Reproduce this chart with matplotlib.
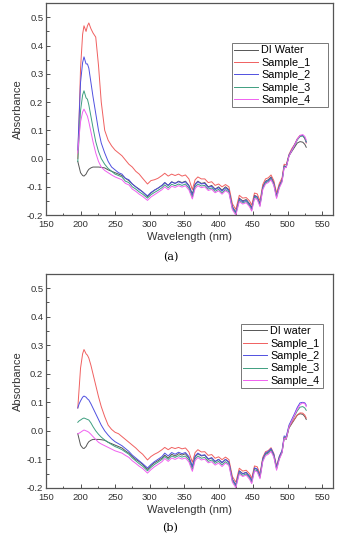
import numpy as np
import matplotlib
matplotlib.use('Agg')
import matplotlib.pyplot as plt
from matplotlib.ticker import MultipleLocator, FormatStrFormatter

plt.rcParams['font.family'] = ['Liberation Sans', 'DejaVu Sans']

# wavelength grid (nm)
wl = [196, 198, 200, 203, 205, 208, 210, 212, 215, 218, 222, 226, 230, 235, 240,
      245, 250, 255, 260, 265, 270, 275, 280, 285, 290, 297, 302, 307, 312, 318,
      322, 327, 332, 337, 342, 347, 352, 357, 362, 366, 370, 375, 380, 385, 390,
      395, 400, 405, 410, 415, 420, 425, 430, 435, 440, 445, 448, 452, 456, 460,
      464, 468, 472, 476, 480, 484, 488, 492, 495, 498, 502, 506, 510, 514, 518,
      522, 525, 527]

di_water = [-0.010, -0.030, -0.050, -0.060, -0.062, -0.055, -0.045, -0.038, -0.033, -0.030,
            -0.030, -0.030, -0.031, -0.033, -0.040, -0.045, -0.050, -0.055, -0.060, -0.070,
            -0.078, -0.090, -0.100, -0.108, -0.118, -0.135, -0.122, -0.112, -0.105, -0.095,
            -0.085, -0.095, -0.082, -0.088, -0.080, -0.085, -0.080, -0.095, -0.125, -0.090,
            -0.080, -0.088, -0.085, -0.100, -0.095, -0.108, -0.100, -0.112, -0.100, -0.110,
            -0.170, -0.190, -0.140, -0.150, -0.145, -0.160, -0.175, -0.130, -0.135, -0.160,
            -0.100, -0.080, -0.075, -0.065, -0.085, -0.130, -0.095, -0.075, -0.025, -0.030,
            0.010, 0.025, 0.040, 0.055, 0.060, 0.058, 0.050, 0.040]

# panel (a)
a_sample1 = [0.000, 0.150, 0.320, 0.440, 0.470, 0.450, 0.470, 0.480, 0.460, 0.445,
             0.430, 0.330, 0.200, 0.100, 0.065, 0.045, 0.030, 0.020, 0.010, -0.005,
             -0.020, -0.030, -0.045, -0.055, -0.070, -0.090, -0.078, -0.075, -0.070, -0.060,
             -0.052, -0.062, -0.055, -0.060, -0.055, -0.062, -0.058, -0.072, -0.110, -0.075,
             -0.065, -0.072, -0.072, -0.085, -0.082, -0.095, -0.090, -0.100, -0.092, -0.100,
             -0.160, -0.180, -0.130, -0.140, -0.138, -0.150, -0.165, -0.122, -0.125, -0.150,
             -0.092, -0.072, -0.068, -0.058, -0.078, -0.122, -0.088, -0.068, -0.020, -0.022,
             0.015, 0.035, 0.050, 0.070, 0.082, 0.082, 0.070, 0.055]
a_sample2 = [0.030, 0.150, 0.270, 0.340, 0.360, 0.335, 0.335, 0.320, 0.270, 0.220,
             0.160, 0.100, 0.055, 0.020, -0.010, -0.030, -0.040, -0.050, -0.055, -0.070,
             -0.075, -0.090, -0.100, -0.110, -0.118, -0.132, -0.120, -0.112, -0.105, -0.095,
             -0.085, -0.095, -0.083, -0.088, -0.082, -0.087, -0.082, -0.097, -0.130, -0.092,
             -0.082, -0.090, -0.088, -0.102, -0.098, -0.110, -0.103, -0.115, -0.104, -0.113,
             -0.172, -0.192, -0.143, -0.153, -0.148, -0.163, -0.178, -0.133, -0.137, -0.162,
             -0.102, -0.082, -0.078, -0.068, -0.088, -0.133, -0.097, -0.077, -0.027, -0.028,
             0.012, 0.030, 0.048, 0.068, 0.080, 0.082, 0.072, 0.058]
a_sample3 = [-0.010, 0.080, 0.170, 0.225, 0.240, 0.215, 0.210, 0.190, 0.150, 0.110,
             0.060, 0.025, 0.000, -0.020, -0.035, -0.045, -0.055, -0.060, -0.065, -0.080,
             -0.085, -0.100, -0.108, -0.118, -0.126, -0.140, -0.128, -0.120, -0.113, -0.103,
             -0.093, -0.103, -0.091, -0.096, -0.090, -0.095, -0.090, -0.105, -0.137, -0.100,
             -0.090, -0.097, -0.095, -0.108, -0.104, -0.116, -0.109, -0.121, -0.110, -0.118,
             -0.177, -0.196, -0.148, -0.157, -0.152, -0.167, -0.182, -0.137, -0.141, -0.166,
             -0.106, -0.086, -0.081, -0.071, -0.091, -0.137, -0.100, -0.080, -0.029, -0.030,
             0.010, 0.028, 0.046, 0.066, 0.078, 0.080, 0.072, 0.060]
a_sample4 = [0.020, 0.080, 0.130, 0.165, 0.175, 0.160, 0.150, 0.130, 0.095, 0.060,
             0.020, -0.010, -0.030, -0.042, -0.050, -0.058, -0.065, -0.070, -0.075, -0.088,
             -0.093, -0.108, -0.116, -0.126, -0.134, -0.148, -0.136, -0.128, -0.120, -0.110,
             -0.100, -0.110, -0.098, -0.102, -0.096, -0.101, -0.096, -0.111, -0.143, -0.106,
             -0.096, -0.103, -0.100, -0.113, -0.109, -0.121, -0.114, -0.126, -0.114, -0.122,
             -0.181, -0.200, -0.152, -0.161, -0.156, -0.171, -0.186, -0.141, -0.145, -0.170,
             -0.110, -0.090, -0.085, -0.075, -0.095, -0.141, -0.104, -0.083, -0.032, -0.032,
             0.008, 0.028, 0.047, 0.068, 0.082, 0.085, 0.078, 0.066]

# panel (b)
b_sample1 = [0.080, 0.150, 0.220, 0.270, 0.285, 0.270, 0.265, 0.255, 0.230, 0.200,
             0.160, 0.120, 0.085, 0.050, 0.020, 0.005, -0.005, -0.010, -0.020, -0.030,
             -0.040, -0.050, -0.060, -0.072, -0.082, -0.102, -0.090, -0.082, -0.076, -0.066,
             -0.058, -0.066, -0.058, -0.062, -0.058, -0.063, -0.060, -0.074, -0.110, -0.076,
             -0.066, -0.074, -0.073, -0.086, -0.083, -0.096, -0.091, -0.101, -0.092, -0.101,
             -0.160, -0.180, -0.131, -0.141, -0.138, -0.151, -0.166, -0.123, -0.126, -0.151,
             -0.093, -0.073, -0.069, -0.059, -0.079, -0.123, -0.089, -0.070, -0.022, -0.025,
             0.012, 0.028, 0.042, 0.056, 0.063, 0.062, 0.055, 0.045]
b_sample2 = [0.080, 0.095, 0.105, 0.118, 0.122, 0.118, 0.112, 0.108, 0.095, 0.080,
             0.060, 0.040, 0.020, 0.000, -0.015, -0.028, -0.038, -0.045, -0.052, -0.062,
             -0.072, -0.085, -0.095, -0.105, -0.115, -0.130, -0.118, -0.108, -0.100, -0.090,
             -0.078, -0.088, -0.076, -0.082, -0.075, -0.080, -0.076, -0.090, -0.125, -0.088,
             -0.078, -0.086, -0.084, -0.098, -0.094, -0.107, -0.100, -0.111, -0.100, -0.110,
             -0.170, -0.190, -0.141, -0.151, -0.146, -0.160, -0.175, -0.130, -0.134, -0.158,
             -0.098, -0.077, -0.072, -0.062, -0.082, -0.128, -0.090, -0.068, -0.018, -0.020,
             0.020, 0.040, 0.060, 0.082, 0.098, 0.100, 0.098, 0.090]
b_sample3 = [0.030, 0.035, 0.038, 0.043, 0.045, 0.042, 0.040, 0.038, 0.028, 0.015,
             0.000, -0.012, -0.022, -0.032, -0.040, -0.048, -0.055, -0.060, -0.066, -0.074,
             -0.082, -0.095, -0.105, -0.115, -0.124, -0.140, -0.128, -0.118, -0.110, -0.100,
             -0.090, -0.100, -0.088, -0.093, -0.087, -0.092, -0.088, -0.102, -0.135, -0.098,
             -0.088, -0.096, -0.093, -0.107, -0.102, -0.114, -0.107, -0.119, -0.108, -0.117,
             -0.176, -0.195, -0.147, -0.156, -0.151, -0.166, -0.181, -0.136, -0.140, -0.164,
             -0.104, -0.083, -0.078, -0.068, -0.088, -0.134, -0.096, -0.074, -0.024, -0.026,
             0.014, 0.033, 0.052, 0.070, 0.083, 0.085, 0.080, 0.072]
b_sample4 = [-0.010, -0.008, -0.005, 0.000, 0.003, 0.000, -0.002, -0.005, -0.012, -0.020,
             -0.030, -0.040, -0.046, -0.052, -0.058, -0.064, -0.070, -0.074, -0.078, -0.086,
             -0.093, -0.105, -0.114, -0.124, -0.132, -0.148, -0.136, -0.126, -0.118, -0.108,
             -0.097, -0.107, -0.095, -0.100, -0.094, -0.099, -0.095, -0.109, -0.142, -0.104,
             -0.094, -0.102, -0.099, -0.112, -0.108, -0.120, -0.113, -0.125, -0.113, -0.121,
             -0.180, -0.199, -0.151, -0.160, -0.155, -0.170, -0.185, -0.140, -0.144, -0.168,
             -0.108, -0.087, -0.082, -0.072, -0.092, -0.138, -0.100, -0.077, -0.026, -0.028,
             0.014, 0.034, 0.055, 0.076, 0.092, 0.098, 0.095, 0.085]

colors = ['#555555', '#f06060', '#5050e0', '#3f9f80', '#f060f0']

fig = plt.figure(figsize=(3.41, 5.35), dpi=100)
ax_a = fig.add_axes([0.135, 0.598, 0.842, 0.396])
ax_b = fig.add_axes([0.135, 0.088, 0.842, 0.400])

# legend box in axes fraction: (left, bottom, width, height)
panels = [
    (ax_a, [di_water, a_sample1, a_sample2, a_sample3, a_sample4],
     ['DI Water', 'Sample_1', 'Sample_2', 'Sample_3', 'Sample_4'], (0.648, 0.505, 0.335, 0.306)),
    (ax_b, [di_water, b_sample1, b_sample2, b_sample3, b_sample4],
     ['DI water', 'Sample_1', 'Sample_2', 'Sample_3', 'Sample_4'], (0.679, 0.449, 0.286, 0.317)),
]

for ax, series, names, lbox in panels:
    for y, c, n in zip(series, colors, names):
        ax.plot(wl, y, color=c, lw=0.7, label=n)
    ax.set_xlim(150, 566)
    ax.set_ylim(-0.2, 0.55)
    ax.xaxis.set_major_locator(MultipleLocator(50))
    ax.xaxis.set_minor_locator(MultipleLocator(25))
    ax.yaxis.set_major_locator(MultipleLocator(0.1))
    ax.yaxis.set_minor_locator(MultipleLocator(0.05))
    ax.yaxis.set_major_formatter(FormatStrFormatter('%.1f'))
    ax.tick_params(which='both', direction='in', top=False, right=False,
                   labelsize=6.8, pad=2, color='#333333', labelcolor='#333333')
    ax.tick_params(axis='x', pad=3.5)
    ax.tick_params(which='major', length=3, width=0.6)
    ax.tick_params(which='minor', length=1.8, width=0.6)
    for s in ax.spines.values():
        s.set_color('#555555')
        s.set_linewidth(0.9)
    ax.set_xlabel('Wavelength (nm)', fontsize=8, color='#333333', labelpad=2)
    ax.set_ylabel('Absorbance', fontsize=8, color='#333333', labelpad=3)
    leg = ax.legend(loc='upper left', bbox_to_anchor=lbox, mode='expand',
                    fontsize=7.8, frameon=True, fancybox=False, handlelength=2.2,
                    handletextpad=0.3, borderpad=0.2, labelspacing=0.22,
                    borderaxespad=0)
    leg.get_frame().set_edgecolor('#555555')
    leg.get_frame().set_linewidth(0.7)

fig.text(0.5, 0.52, '(a)', ha='center', va='center', fontsize=8, family='serif')
fig.text(0.5, 0.013, '(b)', ha='center', va='center', fontsize=8, family='serif')

plt.savefig('out.png', dpi=100)
